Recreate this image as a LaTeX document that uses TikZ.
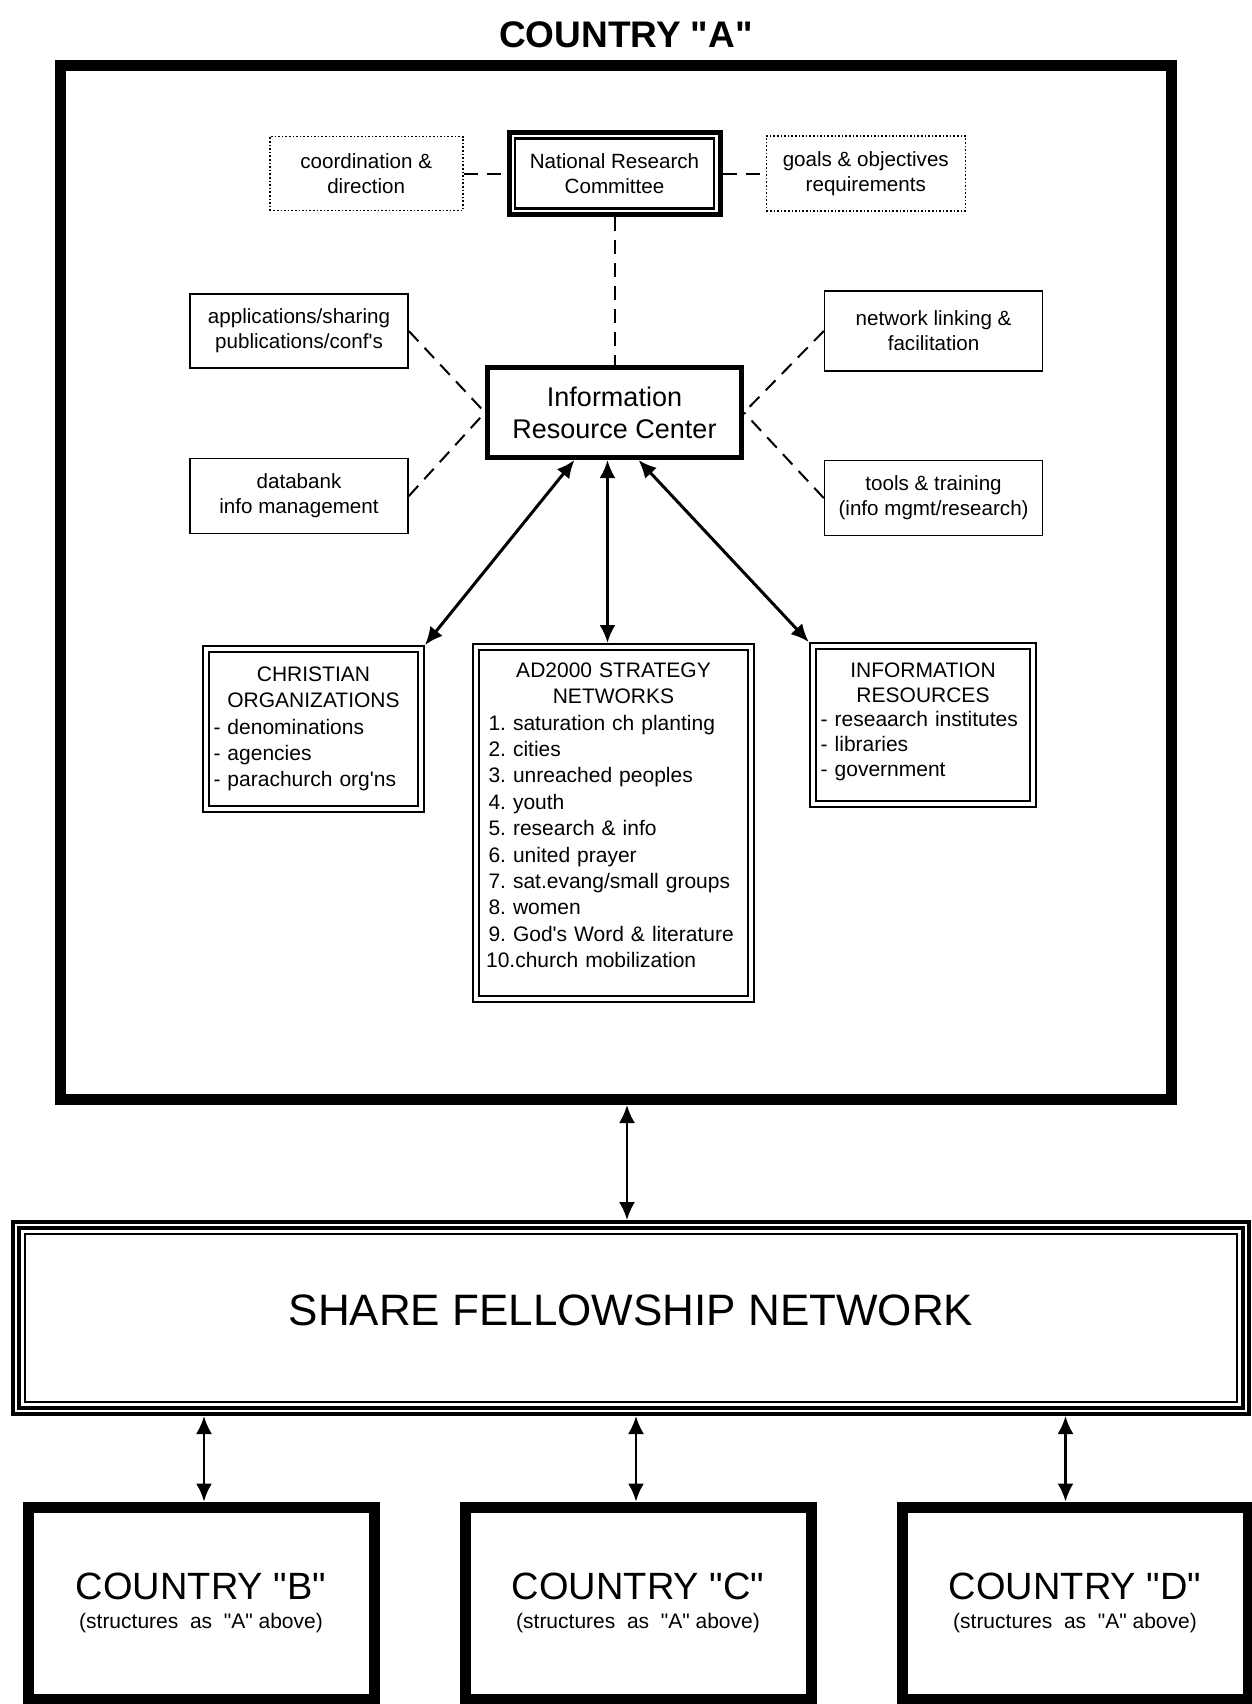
\documentclass[tikz,border=0pt]{standalone}
\usepackage{fontspec}
\newfontfamily\diagramfont{Liberation Sans}
\usetikzlibrary{positioning,arrows.meta}
\tikzstyle{countrybox} = [rectangle, draw=black, line width=5.5pt, align=center, font=\fontsize{10.5}{14.5}\selectfont]
\tikzstyle{committee} = [rectangle, draw=black, line width=2.5pt, minimum width=105.5pt, minimum height=41pt, align=center, font=\fontsize{10.3}{12.5}\selectfont]
\tikzstyle{dotbox} = [rectangle, draw=black, densely dotted, line width=0.8pt, align=center, font=\fontsize{10.3}{12.5}\selectfont]
\tikzstyle{sidebox} = [rectangle, draw=black, line width=0.8pt, minimum width=109pt, minimum height=37.5pt, align=center, font=\fontsize{10.3}{12.5}\selectfont]
\tikzstyle{center} = [rectangle, draw=black, line width=2.5pt, minimum width=127pt, minimum height=45pt, align=center, font=\fontsize{13.5}{16}\selectfont]
\tikzstyle{listbox} = [rectangle, draw=black, double, double distance=2pt, line width=1.1pt, outer sep=2.1pt, inner xsep=1pt, align=left, font=\fontsize{10.5}{13.2}\selectfont]
\tikzstyle{sharebox} = [rectangle, draw=black, line width=2pt, minimum width=618pt, minimum height=96pt, text depth=8pt, font=\fontsize{22}{26}\selectfont]
\tikzstyle{link} = [line width=1.5pt, <->, >={Latex[length=9pt,width=8pt]}]
\tikzstyle{dashlink} = [line width=1pt, dash pattern=on 7pt off 4.5pt]
\newcommand{\innerframe}[3]{\draw [line width=#3] ([shift={(#2,-#2)}]#1.north west) rectangle ([shift={(-#2,#2)}]#1.south east);}
\begin{document}
\diagramfont\frenchspacing
\begin{tikzpicture}[x=0.5pt, y=-0.5pt]
\useasboundingbox (0,0) rectangle (1252,1704);

\node(title)     [font=\bfseries\fontsize{18.5}{22}\selectfont] at (626,35) {COUNTRY "A"};
\node(countryA)  [countrybox, minimum width=555.5pt, minimum height=517pt] at (616,582.5) {};

\node(irc)       [center] at (614.5,412.5)                     {Information\\Resource Center};
\node(nrc)       [committee, above=74pt of irc]                {National Research\\Committee};
\node(coord)     [dotbox, minimum width=96.5pt, minimum height=37pt, left=21.5pt of nrc]   {coordination \&\\direction};
\node(goals)     [dotbox, minimum width=99.5pt, minimum height=37.5pt, right=21.5pt of nrc] {goals \& objectives\\requirements};
\node(apps)      [sidebox, minimum height=37pt] at (299,331)   {applications/sharing\\publications/conf's};
\node(databank)  [sidebox, below=44.5pt of apps]               {databank\\info management};
\node(network)   [sidebox, minimum height=40pt, right=207.5pt of apps] {network linking \&\\facilitation};
\node(tools)     [sidebox, below=44pt of network]              {tools \& training\\(info mgmt/research)};

\node(co)        [listbox, minimum width=107.3pt, minimum height=79.8pt, text width=100pt] at (313.5,729)
  {{\centering CHRISTIAN\\ORGANIZATIONS\par}- denominations\\- agencies\\- parachurch org'ns};
\node(ad2000)    [listbox, minimum width=137.3pt, minimum height=175.8pt, text width=125pt] at (613.5,823)
  {{\centering AD2000 STRATEGY\\NETWORKS\par}1. saturation ch planting\\2. cities\\3. unreached peoples\\4. youth\\5. research \& info\\6. united prayer\\7. sat.evang/small groups\\8. women\\9. God's Word \& literature\\\hspace*{-1.2pt}10.church mobilization\\[-5.4pt]\mbox{}};
\node(ir)        [listbox, minimum width=110pt, minimum height=78.8pt, text width=102.3pt, font=\fontsize{10.5}{12.4}\selectfont] at (923,725)
  {{\centering INFORMATION\\RESOURCES\par}- reseaarch institutes\\- libraries\\- government\\[-7pt]\mbox{}};

\node(share)     [sharebox] at (631,1318)                      {SHARE FELLOWSHIP NETWORK};
\node(countryB)  [countrybox, minimum width=173pt, minimum height=96pt] at (201,1603)
  {{\fontsize{19}{20}\selectfont COUNTRY "B"}\\(structures\ \ as\ \ "A" above)};
\node(countryC)  [countrybox, minimum width=173pt, minimum height=96pt, right=40pt of countryB]
  {{\fontsize{19}{20}\selectfont COUNTRY "C"}\\(structures\ \ as\ \ "A" above)};
\node(countryD)  [countrybox, minimum width=173pt, minimum height=96pt, right=40pt of countryC]
  {{\fontsize{19}{20}\selectfont COUNTRY "D"}\\(structures\ \ as\ \ "A" above)};

\innerframe{nrc}{4.25pt}{1.4pt}
\innerframe{share}{4pt}{1.6pt}
\innerframe{share}{7pt}{1.4pt}

\draw [dashlink] (coord)         -- (nrc);
\draw [dashlink] (nrc)           -- (goals);
\draw [dashlink] (nrc)           -- (irc);
\draw [dashlink] (apps.east)     -- (irc.west);
\draw [dashlink] (databank.east) -- (irc.west);
\draw [dashlink] (network.west)  -- (irc.east);
\draw [dashlink] (tools.west)    -- (irc.east);

\draw [link] ([xshift=-20pt]irc.south)  -- (co.north east);
\draw [link] ([xshift=-3.5pt]irc.south) -- ([xshift=-3.5pt]irc.south |- ad2000.north);
\draw [link] ([xshift=12pt]irc.south)   -- (ir.north west);
\draw [link, line width=1.2pt] ([xshift=5.5pt]countryA.south) -- ([xshift=5.5pt]countryA.south |- share.north);
\draw [link, line width=1.2pt] ([xshift=1.5pt]countryB.north |- share.south)   -- ([xshift=1.5pt]countryB.north);
\draw [link, line width=1.2pt] ([xshift=-1pt]countryC.north |- share.south)    -- ([xshift=-1pt]countryC.north);
\draw [link, line width=1.2pt] ([xshift=-4.75pt]countryD.north |- share.south) -- ([xshift=-4.75pt]countryD.north);

\end{tikzpicture}
\end{document}
